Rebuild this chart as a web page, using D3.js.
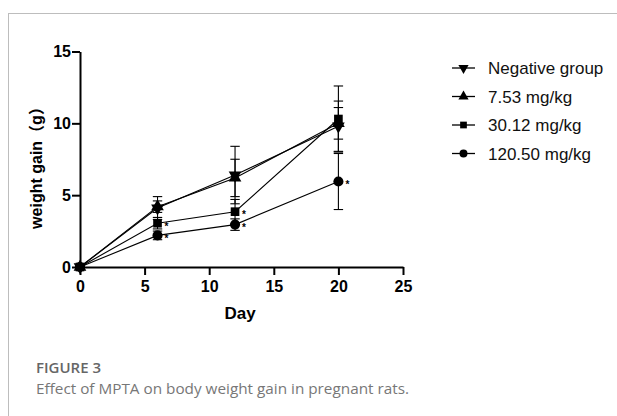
<!DOCTYPE html>
<html><head><meta charset="utf-8">
<script src="https://cdn.jsdelivr.net/npm/d3@7"></script>
<style>body{margin:0;background:#fff;} svg{display:block;}</style>
</head><body>
<svg id="c" width="617" height="416"></svg>
<script>
const days = [0, 6, 12, 20];
const seriesNames = ["Negative group", "7.53 mg/kg", "30.12 mg/kg", "120.50 mg/kg"];
const symbolsUsed = ["down", "up", "square", "circle"];
const negMean = [0, 4.1, 6.4, 9.8];
const negSd   = [0, 0.8, 2.0, 1.75];
const lowMean = [0, 4.2, 6.2, 10.0];
const lowSd   = [0, 0.4, 1.3, 1.1];
const midMean = [0, 3.05, 3.85, 10.3];
const midSd   = [0, 0.4, 0.85, 2.3];
const highMean = [0, 2.2, 2.95, 5.95];
const highSd   = [0, 0.3, 0.4, 1.95];
const midStars = [false, true, true, false];
const highStars = [false, true, true, true];
const xTicks = [0, 5, 10, 15, 20, 25];
const yTicks = [0, 5, 10, 15];

const series = [
  {name: seriesNames[0], mean: negMean, sd: negSd, sym: symbolsUsed[0], stars: [false,false,false,false]},
  {name: seriesNames[1], mean: lowMean, sd: lowSd, sym: symbolsUsed[1], stars: [false,false,false,false]},
  {name: seriesNames[2], mean: midMean, sd: midSd, sym: symbolsUsed[2], stars: midStars},
  {name: seriesNames[3], mean: highMean, sd: highSd, sym: symbolsUsed[3], stars: highStars}
];
const FONT = "'Liberation Sans', Arial, sans-serif";

const svg = d3.select("#c");
// frame
svg.append("line").attr("x1",8).attr("x2",617).attr("y1",13.5).attr("y2",13.5).attr("stroke","#bdbdbd").attr("stroke-width",1);
svg.append("line").attr("x1",8.5).attr("x2",8.5).attr("y1",13).attr("y2",416).attr("stroke","#bdbdbd").attr("stroke-width",1);

const x = d3.scaleLinear().domain([0,25]).range([80,403]);
const y = d3.scaleLinear().domain([0,15]).range([267,51.5]);

const g = svg.append("g");
const xAxis = g.append("g").attr("transform","translate(0,267)")
  .call(d3.axisBottom(x).tickValues(xTicks).tickSize(8).tickPadding(6).tickSizeOuter(0));
const yAxis = g.append("g").attr("transform","translate(80,0)")
  .call(d3.axisLeft(y).tickValues(yTicks).tickSize(8).tickPadding(1).tickSizeOuter(0));
[xAxis,yAxis].forEach(a=>{
  a.attr("font-size",null).attr("font-family",null);
  a.select(".domain").attr("stroke","#000").attr("stroke-width",2);
  a.selectAll(".tick line").attr("stroke","#000").attr("stroke-width",2);
  a.selectAll(".tick text").attr("fill","#000").attr("font-family",FONT)
    .attr("font-size","16px").attr("font-weight","bold");
});
svg.append("text").attr("x",240).attr("y",319).attr("text-anchor","middle")
  .attr("font-family",FONT).attr("font-size","17px").attr("font-weight","bold").text("Day");
svg.append("text").attr("transform","translate(42,164) rotate(-90)").attr("text-anchor","middle")
  .attr("font-family","'Liberation Sans', Arial, 'Noto Sans CJK SC', sans-serif").attr("font-size","16px").attr("font-weight","bold").text("weight gain（g）");

function symPath(s, size){
  if(s==="square") return d3.symbol(d3.symbolSquare, size)();
  if(s==="circle") return d3.symbol(d3.symbolCircle, size)();
  return d3.symbol(d3.symbolTriangle, size)();
}
const line = d3.line().x((d,i)=>x(days[i])).y(d=>y(d));
const plot = svg.append("g");
series.forEach(s=>{
  plot.append("path").attr("d",line(s.mean)).attr("fill","none").attr("stroke","#000").attr("stroke-width",1.1);
});
series.forEach(s=>{
  days.forEach((dv,i)=>{
    if(s.sd[i]>0){
      const cx=x(dv), y1=y(s.mean[i]+s.sd[i]), y2=y(s.mean[i]-s.sd[i]);
      plot.append("line").attr("x1",cx).attr("x2",cx).attr("y1",y1).attr("y2",y2).attr("stroke","#000").attr("stroke-width",1.1);
      [y1,y2].forEach(yy=>plot.append("line").attr("x1",cx-4.7).attr("x2",cx+4.7).attr("y1",yy).attr("y2",yy).attr("stroke","#000").attr("stroke-width",1.1));
    }
  });
});
series.forEach(s=>{
  days.forEach((dv,i)=>{
    const rot = s.sym==="down" ? 180 : 0;
    const size = s.sym==="circle" ? 80 : (s.sym==="square" ? 75 : 70);
    plot.append("path").attr("d",symPath(s.sym,size))
      .attr("transform",`translate(${x(dv)},${y(s.mean[i])}) rotate(${rot})`).attr("fill","#000");
    if(s.stars[i]){
      plot.append("text").attr("x",x(dv)+7).attr("y",y(s.mean[i])+6.5)
        .attr("font-family",FONT).attr("font-size","10px").attr("font-weight","bold").text("*");
    }
  });
});

// legend
const leg = svg.append("g");
const legY = [68, 96.5, 125, 153.5];
series.forEach((s,i)=>{
  const ly=legY[i];
  leg.append("line").attr("x1",452).attr("x2",475).attr("y1",ly).attr("y2",ly).attr("stroke","#000").attr("stroke-width",1.3);
  const rot = s.sym==="down" ? 180 : 0;
  leg.append("path").attr("d",symPath(s.sym, s.sym==="circle"?50:45))
    .attr("transform",`translate(463.5,${ly}) rotate(${rot})`).attr("fill","#000");
  leg.append("text").attr("x",488).attr("y",ly+6).attr("font-family",FONT)
    .attr("font-size","17px").attr("fill","#111").text(s.name);
});

// caption
svg.append("text").attr("x",36).attr("y",373).attr("font-family","'Open Sans', sans-serif")
  .attr("font-size","15px").attr("font-weight","600").attr("fill","#666").text("FIGURE 3");
svg.append("text").attr("x",36).attr("y",393.5).attr("font-family","'Open Sans', sans-serif")
  .attr("font-size","15.3px").attr("fill","#777").text("Effect of MPTA on body weight gain in pregnant rats.");
</script>
</body></html>
